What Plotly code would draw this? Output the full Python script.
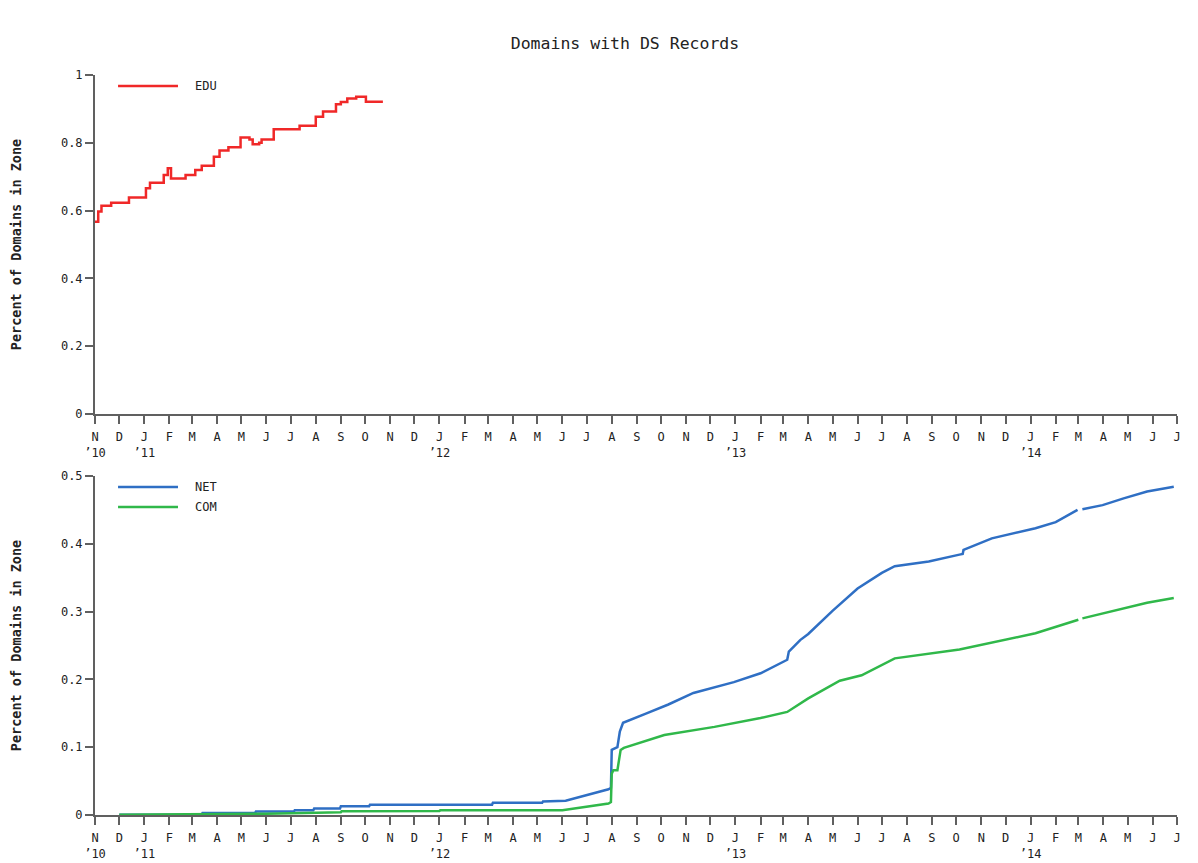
import plotly.graph_objects as go
from plotly.subplots import make_subplots
import pandas as pd

# ---------------- data ----------------
TITLE = "Domains with DS Records"
Y_TITLE = "Percent of Domains in Zone"

edu_dates = ["2010-11-01", "2010-11-05", "2010-11-09", "2010-11-21", "2010-12-13",
             "2011-01-03", "2011-01-08", "2011-01-25", "2011-01-30", "2011-02-03",
             "2011-02-21", "2011-03-05", "2011-03-13", "2011-03-28", "2011-04-04",
             "2011-04-15", "2011-04-30", "2011-05-11", "2011-05-15", "2011-05-23",
             "2011-05-26", "2011-06-10", "2011-07-12", "2011-08-01", "2011-08-10",
             "2011-08-26", "2011-09-01", "2011-09-09", "2011-09-20", "2011-10-02",
             "2011-10-23"]
edu_values = [0.567, 0.597, 0.614, 0.623, 0.639,
              0.666, 0.682, 0.705, 0.725, 0.695,
              0.705, 0.720, 0.732, 0.759, 0.777,
              0.787, 0.816, 0.810, 0.796, 0.800,
              0.810, 0.840, 0.850, 0.877, 0.892,
              0.914, 0.920, 0.931, 0.936, 0.921,
              0.921]

net_dates = ["2010-12-01", "2011-03-13", "2011-03-14", "2011-05-18", "2011-05-19",
             "2011-07-05", "2011-07-06", "2011-07-29", "2011-07-30", "2011-08-31",
             "2011-09-01", "2011-10-06", "2011-10-07", "2012-03-06", "2012-03-07",
             "2012-05-07", "2012-05-08", "2012-06-05", "2012-07-28", "2012-07-31",
             "2012-08-01", "2012-08-08", "2012-08-11", "2012-08-15", "2012-09-13",
             "2012-10-10", "2012-11-10", "2012-12-30", "2013-02-01", "2013-03-06",
             "2013-03-08", "2013-03-22", "2013-04-01", "2013-05-01", "2013-06-01",
             "2013-07-01", "2013-07-17", "2013-08-28", "2013-10-05", "2013-10-09",
             "2013-10-10", "2013-11-14", "2014-01-07", "2014-02-01", "2014-02-28",
             "2014-03-03", "2014-03-06", "2014-03-31", "2014-04-26", "2014-05-25",
             "2014-06-27"]
net_values = [0.0005, 0.0008, 0.003, 0.003, 0.005,
              0.005, 0.007, 0.007, 0.0096, 0.0096,
              0.013, 0.013, 0.015, 0.015, 0.018,
              0.018, 0.020, 0.021, 0.038, 0.040,
              0.096, 0.100, 0.123, 0.136, 0.150,
              0.163, 0.180, 0.196, 0.209, 0.229,
              0.241, 0.258, 0.267, 0.301, 0.334,
              0.357, 0.367, 0.374, 0.384, 0.385,
              0.391, 0.408, 0.423, 0.432, 0.450,
              None, 0.451, 0.457, 0.467, 0.477,
              0.484]

com_dates = ["2010-12-01", "2011-06-01", "2011-09-01", "2011-09-02", "2012-01-01",
             "2012-01-02", "2012-06-01", "2012-07-28", "2012-07-31", "2012-08-01",
             "2012-08-03", "2012-08-08", "2012-08-12", "2012-08-16", "2012-10-05",
             "2012-12-06", "2013-02-01", "2013-03-06", "2013-04-01", "2013-05-10",
             "2013-06-06", "2013-07-17", "2013-10-05", "2014-01-07", "2014-03-01",
             "2014-03-03", "2014-03-06", "2014-05-25", "2014-06-27"]
com_values = [0.0003, 0.002, 0.004, 0.0056, 0.006,
              0.007, 0.007, 0.017, 0.019, 0.061,
              0.066, 0.066, 0.096, 0.099, 0.118,
              0.130, 0.143, 0.152, 0.172, 0.198,
              0.206, 0.231, 0.244, 0.268, 0.288,
              None, 0.290, 0.313, 0.320]

month_letters = ["J", "F", "M", "A", "M", "J", "J", "A", "S", "O", "N", "D"]
x_start, x_end = "2010-11-01", "2014-07-01"

# ---------------- styling ----------------
FONT = "DejaVu Sans Mono"
AXIS_COLOR = "#606060"
TEXT_COLOR = "#222222"
RED = "#f02828"
BLUE = "#2f6fc4"
GREEN = "#30b84a"

tick_dates = pd.date_range(x_start, x_end, freq="MS")
tick_text = []
for i, d in enumerate(tick_dates):
    lab = month_letters[d.month - 1]
    if i == 0 or d.month == 1:
        lab += "<br>\u2019" + d.strftime("%y")
    tick_text.append(lab)

fig = make_subplots(rows=2, cols=1)

fig.add_trace(go.Scatter(x=edu_dates, y=edu_values, mode="lines", name="EDU",
                         line=dict(color=RED, width=2.5, shape="hv")), row=1, col=1)
fig.add_trace(go.Scatter(x=net_dates, y=net_values, mode="lines", name="NET",
                         line=dict(color=BLUE, width=2.5), connectgaps=False), row=2, col=1)
fig.add_trace(go.Scatter(x=com_dates, y=com_values, mode="lines", name="COM",
                         line=dict(color=GREEN, width=2.5), connectgaps=False), row=2, col=1)

W, H = 1198, 863
OFF = 8  # page body margin
ml, mr, mt, mb = 95 - OFF, 21 + OFF, 75 - OFF, 48 + OFF
plot_h = H - mt - mb
top_dom = [(815 - 414) / plot_h, 1.0]
bot_dom = [0.0, (815 - 476) / plot_h]

xaxis_common = dict(
    type="date", range=[x_start, x_end], tickmode="array",
    tickvals=list(tick_dates), ticktext=tick_text,
    showline=True, linecolor=AXIS_COLOR, linewidth=2,
    ticks="outside", ticklen=8, tickwidth=1.5, tickcolor=AXIS_COLOR,
    showgrid=False, zeroline=False, ticklabelstandoff=3,
    tickfont=dict(family=FONT, size=12, color=TEXT_COLOR),
    automargin=False,
)
yaxis_common = dict(
    showline=True, linecolor=AXIS_COLOR, linewidth=2,
    ticks="outside", ticklen=8, tickwidth=1.5, tickcolor=AXIS_COLOR,
    showgrid=False, zeroline=False,
    tickfont=dict(family=FONT, size=12, color=TEXT_COLOR),
    automargin=False,
    title=dict(text="<b>" + Y_TITLE + "</b>", standoff=38,
               font=dict(family=FONT, size=13.5, color=TEXT_COLOR)),
)

fig.update_xaxes(**xaxis_common)
fig.update_yaxes(**yaxis_common)
fig.update_layout(
    xaxis=dict(domain=[0, 1], anchor="y"),
    xaxis2=dict(domain=[0, 1], anchor="y2"),
    yaxis=dict(domain=top_dom, range=[0, 1], dtick=0.2, tick0=0),
    yaxis2=dict(domain=bot_dom, range=[0, 0.5], dtick=0.1, tick0=0),
)

# manual legends (long line samples as in the original)
legend_items = [("EDU", RED, "x domain", "y domain", 0.9676),
                ("NET", BLUE, "x2 domain", "y2 domain", 0.9676),
                ("COM", GREEN, "x2 domain", "y2 domain", 0.9086)]
for name, col, xr, yr, yy in legend_items:
    fig.add_shape(type="line", xref=xr, yref=yr, x0=0.0213, x1=0.0767, y0=yy, y1=yy,
                  line=dict(color=col, width=2.5))
    fig.add_annotation(xref=xr, yref=yr, x=0.0906, y=yy, text=name, showarrow=False,
                       xanchor="left", yanchor="middle",
                       font=dict(family=FONT, size=12, color=TEXT_COLOR))

fig.update_layout(
    width=W, height=H,
    margin=dict(l=ml, r=mr, t=mt, b=mb, autoexpand=False),
    paper_bgcolor="white", plot_bgcolor="white",
    showlegend=False,
    title=dict(text=TITLE, x=(625 - OFF) / W, xref="container", xanchor="center",
               y=1 - (43 - OFF) / H, yref="container", yanchor="middle",
               font=dict(family=FONT, size=16.5, color=TEXT_COLOR)),
    font=dict(family=FONT, color=TEXT_COLOR),
)

fig.write_html("out.html")
